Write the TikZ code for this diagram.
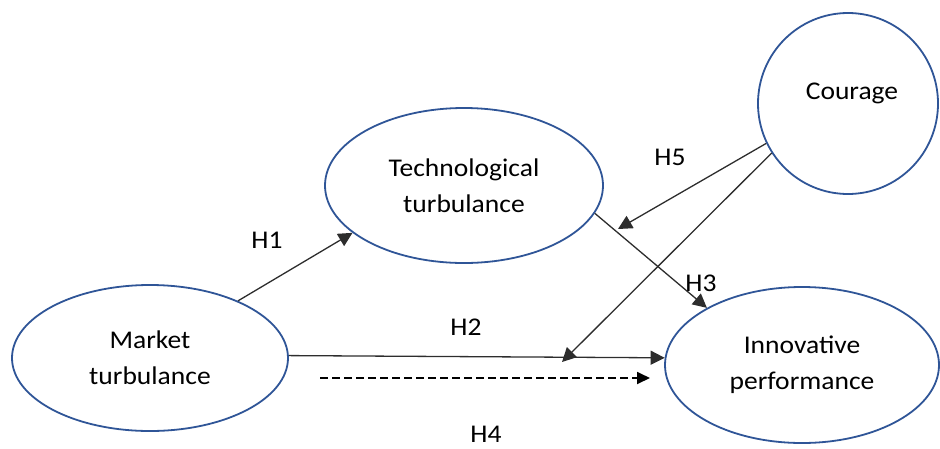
\documentclass[tikz,border=0pt]{standalone}
\usepackage{fontspec}
\setmainfont{Carlito}[FakeStretch=1.08]
\usetikzlibrary{shapes.geometric,arrows.meta}
\definecolor{ovalblue}{RGB}{47,85,151}
\definecolor{linegray}{RGB}{45,45,45}
\begin{document}
\begin{tikzpicture}[x=1pt,y=-1pt,
  oval/.style={ellipse,draw=ovalblue,line width=1.8pt,inner sep=0pt,align=center,
    font=\fontsize{25.5}{36}\selectfont},
  conn/.style={draw=linegray,line width=1.3pt,-{Triangle[length=14pt,width=14pt]}},
  dconn/.style={draw=black,line width=1.8pt,dash pattern=on 8pt off 4pt,
    -{Triangle[length=13pt,width=12pt]}},
  lbl/.style={font=\fontsize{25.5}{30}\selectfont,inner sep=0pt}]
\useasboundingbox (0,0) rectangle (940,448);
\node[oval,minimum width=276pt,minimum height=146pt] (mkt) at (150,358) {Market\\turbulance};
\node[oval,minimum width=278pt,minimum height=155pt] (tech) at (464,185.5) {Technological\\turbulance};
\node[oval,minimum width=274pt,minimum height=156pt] (inn) at (802,365) {Innovative\\performance};
\node[oval,minimum width=180pt,minimum height=181pt] (cour) at (848,103.5) {};
\node[lbl] (courtxt) at (852,93) {Courage};
\coordinate (h5end) at (618,229);
\coordinate (modend) at (562,362);
\coordinate (h4s) at (320,378);
\coordinate (h4e) at (650,378);
\draw[conn] (mkt.33.8) -- (tech.203.4);
\draw[conn] (mkt.1) -- (inn.177.4);
\draw[conn] (tech.-12.2) -- (inn.149.7);
\draw[conn] (cour.206.3) -- (h5end);
\draw[conn] (cour.213.6) -- (modend);
\draw[dconn] (h4s) -- (h4e);
\node[lbl] (h1) at (267,240) {H1};
\node[lbl] (h2) at (466,327) {H2};
\node[lbl] (h3) at (701,283) {H3};
\node[lbl] (h4) at (486,434) {H4};
\node[lbl] (h5) at (670,157) {H5};
\end{tikzpicture}
\end{document}
